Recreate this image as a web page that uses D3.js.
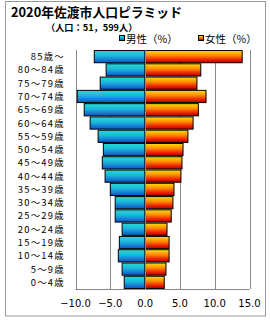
<!DOCTYPE html>
<html>
<head>
<meta charset="utf-8">
<script src="https://cdn.jsdelivr.net/npm/d3@7"></script>
<style>
  body { margin: 0; background: #fff; }
  svg { display: block; }
</style>
</head>
<body>
<div id="chart"></div>
<script>
// age groups, top to bottom
const ageLabels = ["85歳～", "80～84歳", "75～79歳", "70～74歳", "65～69歳", "60～64歳",
    "55～59歳", "50～54歳", "45～49歳", "40～44歳", "35～39歳", "30～34歳",
    "25～29歳", "20～24歳", "15～19歳", "10～14歳", "5～9歳", "0～4歳"];
// percent of population (male drawn to the left)
const male = [7.3, 5.6, 6.45, 9.75, 8.75, 7.9, 6.75, 6.0, 6.15, 5.75, 5.0, 4.3, 4.3, 3.3, 3.7, 3.85, 3.3, 3.0];
const female = [13.95, 8.0, 7.45, 8.75, 7.65, 6.9, 6.15, 5.45, 5.3, 5.15, 4.15, 4.0, 3.75, 3.15, 3.45, 3.45, 3.0, 2.75];
const xTicks = [-10, -5, 0, 5, 10, 15];
const tickLabels = ["−10.0", "−5.0", "0.0", "5.0", "10.0", "15.0"];

const W = 270, H = 320;
const svg = d3.select("#chart").append("svg")
    .attr("width", W)
    .attr("height", H);

// gradients
const defs = svg.append("defs");
let gM = defs.append("linearGradient").attr("id", "gMale")
    .attr("x1", 0).attr("y1", 0).attr("x2", 0).attr("y2", 1);
gM.append("stop").attr("offset", "0%").attr("stop-color", "#24dcd4");
gM.append("stop").attr("offset", "45%").attr("stop-color", "#1cb4dc");
gM.append("stop").attr("offset", "100%").attr("stop-color", "#1050c8");
let gF = defs.append("linearGradient").attr("id", "gFemale")
    .attr("x1", 0).attr("y1", 0).attr("x2", 0).attr("y2", 1);
gF.append("stop").attr("offset", "0%").attr("stop-color", "#ffe000");
gF.append("stop").attr("offset", "40%").attr("stop-color", "#ff8c00");
gF.append("stop").attr("offset", "75%").attr("stop-color", "#f02000");
gF.append("stop").attr("offset", "100%").attr("stop-color", "#b00000");

// outer frame
svg.append("rect")
    .attr("x", 5.5).attr("y", 1.5)
    .attr("width", 260).attr("height", 314.5)
    .attr("fill", "none").attr("stroke", "#999").attr("stroke-width", 1);

// titles
svg.append("text")
    .attr("x", 11).attr("y", 17)
    .attr("font-family", "Noto Sans CJK JP")
    .attr("font-weight", "bold")
    .attr("font-size", 12.8)
    .text("2020年佐渡市人口ピラミッド");

svg.append("text")
    .attr("x", 46).attr("y", 31)
    .attr("font-family", "Noto Sans CJK JP")
    .attr("font-weight", "bold")
    .attr("font-size", 9.2)
    .text("（人口：51，599人）");

// legend
const legend = [{label: "男性（%）", fill: "url(#gMale)", x: 119.5},
                {label: "女性（%）", fill: "url(#gFemale)", x: 198.5}];
legend.forEach(d => {
    svg.append("rect")
        .attr("x", d.x).attr("y", 35.5)
        .attr("width", 5).attr("height", 5)
        .attr("fill", d.fill).attr("stroke", "#000").attr("stroke-width", 1);
    svg.append("text")
        .attr("x", d.x + 6.5).attr("y", 42.5)
        .attr("font-family", "Noto Sans CJK JP")
        .attr("font-size", 10.5)
        .text(d.label);
});

// scales
const x = d3.scaleLinear().domain([-10, 15]).range([75.5, 249.5]);
const y = d3.scaleBand().domain(ageLabels).range([50, 289]).paddingInner(0.08).paddingOuter(0.04);

// gridlines
svg.append("g")
    .selectAll("line")
    .data(xTicks)
    .join("line")
    .attr("x1", d => Math.round(x(d)) + 0.5)
    .attr("x2", d => Math.round(x(d)) + 0.5)
    .attr("y1", 50).attr("y2", 289)
    .attr("stroke", "#888").attr("stroke-width", 1);

svg.append("line")
    .attr("x1", x(-10)).attr("x2", x(15))
    .attr("y1", 289.5).attr("y2", 289.5)
    .attr("stroke", "#888");

// bars
svg.append("g")
    .selectAll("rect")
    .data(male)
    .join("rect")
    .attr("x", d => x(-d))
    .attr("y", (d, i) => y(ageLabels[i]))
    .attr("width", d => x(0) - x(-d))
    .attr("height", y.bandwidth())
    .attr("fill", "url(#gMale)")
    .attr("stroke", "#000").attr("stroke-width", 1);

svg.append("g")
    .selectAll("rect")
    .data(female)
    .join("rect")
    .attr("x", x(0))
    .attr("y", (d, i) => y(ageLabels[i]))
    .attr("width", d => x(d) - x(0))
    .attr("height", y.bandwidth())
    .attr("fill", "url(#gFemale)")
    .attr("stroke", "#000").attr("stroke-width", 1);

// zero line over bars
svg.append("line")
    .attr("x1", Math.round(x(0)) + 0.5).attr("x2", Math.round(x(0)) + 0.5)
    .attr("y1", 50).attr("y2", 289)
    .attr("stroke", "#888");

// category labels
svg.append("g")
    .selectAll("text")
    .data(ageLabels)
    .join("text")
    .attr("x", 65)
    .attr("y", d => y(d) + y.bandwidth() / 2 + 3.5)
    .attr("text-anchor", "end")
    .attr("font-family", "Noto Sans CJK JP")
    .attr("font-size", 9.4)
    .attr("letter-spacing", 1.3)
    .text(d => d);

// x tick labels
svg.append("g")
    .selectAll("text")
    .data(xTicks)
    .join("text")
    .attr("x", d => x(d))
    .attr("y", 307)
    .attr("text-anchor", "middle")
    .attr("font-family", "DejaVu Sans")
    .attr("font-size", 10)
    .text((d, i) => tickLabels[i]);
</script>
</body>
</html>
